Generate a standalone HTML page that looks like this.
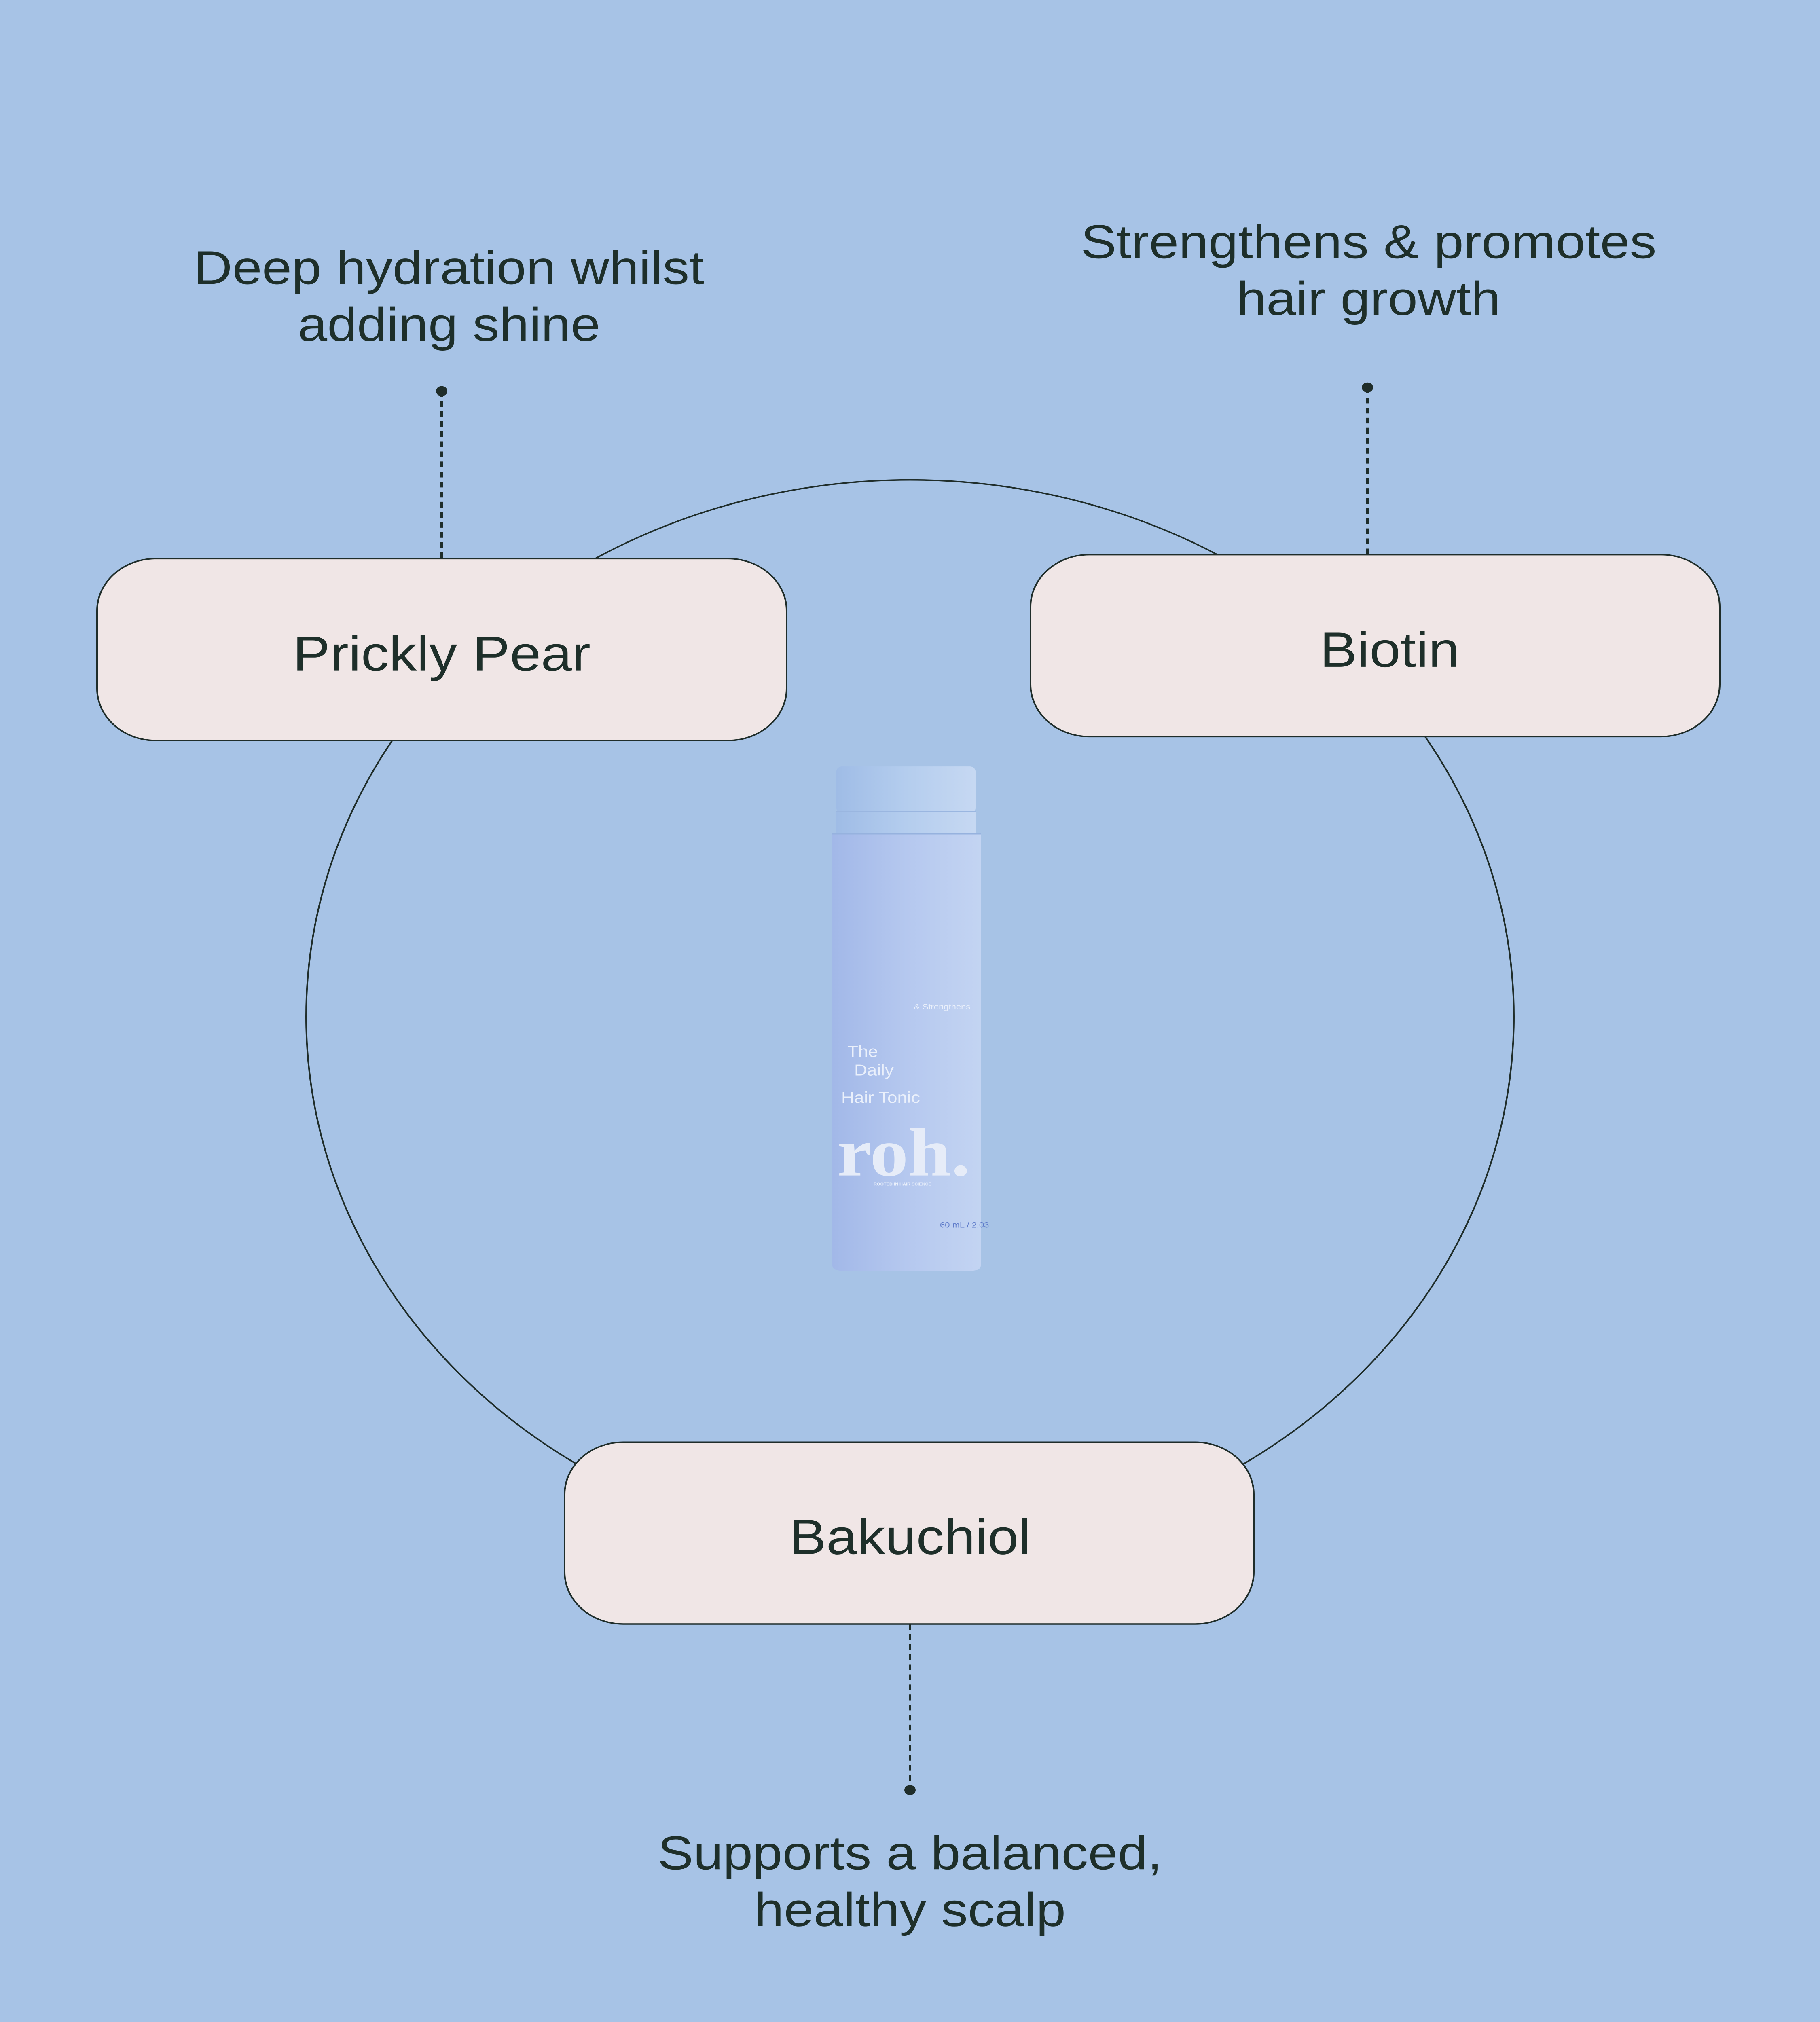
<!DOCTYPE html>
<html><head><style>
html,body{margin:0;padding:0;width:100%;height:100%;overflow:hidden;background:#a7c3e6}
svg{display:block;width:100vw;height:100vh}
</style></head><body>
<svg viewBox="0 0 4500 5625" preserveAspectRatio="none" xmlns="http://www.w3.org/2000/svg">
<defs>
<linearGradient id="bg" x1="0" x2="1" y1="0" y2="0">
<stop offset="0" stop-color="#9fbce6"/><stop offset="0.5" stop-color="#b4cdee"/><stop offset="1" stop-color="#c6d8f2"/>
</linearGradient>
<linearGradient id="bb" x1="0" x2="1" y1="0" y2="0">
<stop offset="0" stop-color="#a2b8e8"/><stop offset="0.5" stop-color="#b5c8ef"/><stop offset="1" stop-color="#c3d4f2"/>
</linearGradient>
</defs>
<rect width="4500" height="5625" fill="#a7c3e6"/>
<circle cx="2250" cy="2828" r="1493" fill="none" stroke="#1f2d2a" stroke-width="4"/>
<g stroke="#1f2d2a" stroke-width="6" stroke-dasharray="16 12">
<line x1="1092" y1="1088" x2="1092" y2="1554"/>
<line x1="3381" y1="1078" x2="3381" y2="1543"/>
<line x1="2250" y1="4518" x2="2250" y2="4980"/>
</g>
<g fill="#1f2d2a">
<circle cx="1092" cy="1088" r="14"/><circle cx="3381" cy="1078" r="14"/><circle cx="2250" cy="4980" r="14"/>
</g>
<g fill="#f0e6e6" stroke="#1f2d2a" stroke-width="4">
<rect x="240" y="1554" width="1705" height="506" rx="145"/>
<rect x="2548" y="1543" width="1704" height="506" rx="145"/>
<rect x="1396" y="4012" width="1704" height="506" rx="145"/>
</g>
<g fill="#1e2f2a" font-family="Liberation Sans, sans-serif" text-anchor="middle">
<text x="1092" y="1866" font-size="138">Prickly Pear</text>
<text x="3436" y="1855" font-size="138">Biotin</text>
<text x="2250" y="4323" font-size="138">Bakuchiol</text>
<text x="1110" y="790" font-size="132">Deep hydration whilst</text>
<text x="1110" y="948" font-size="132">adding shine</text>
<text x="3384" y="718" font-size="132">Strengthens &amp; promotes</text>
<text x="3384" y="876" font-size="132">hair growth</text>
<text x="2250" y="5200" font-size="132">Supports a balanced,</text>
<text x="2250" y="5358" font-size="132">healthy scalp</text>
</g>
<rect x="2068" y="2132" width="344" height="130" rx="14" fill="url(#bg)"/>
<rect x="2068" y="2258" width="344" height="62" fill="url(#bg)"/>
<line x1="2068" y1="2258" x2="2412" y2="2258" stroke="#9ab6e0" stroke-width="3"/>
<path d="M2058 2320 H2425 V3520 Q2425 3535 2400 3535 H2083 Q2058 3535 2058 3520 Z" fill="url(#bb)"/>
<line x1="2058" y1="2320" x2="2425" y2="2320" stroke="#96b2de" stroke-width="3"/>
<g fill="#eaf0fb" font-family="Liberation Sans, sans-serif">
<text x="2095" y="2940" font-size="44">The</text>
<text x="2112" y="2992" font-size="44">Daily</text>
<text x="2080" y="3068" font-size="44">Hair Tonic</text>
<text x="2070" y="3270" font-size="190" font-family="Liberation Serif, serif" font-weight="bold" fill="#e6ecf8">roh.</text>
<text x="2260" y="2808" font-size="22">&amp; Strengthens</text>
<text x="2160" y="3298" font-size="11" font-weight="bold">ROOTED IN HAIR SCIENCE</text>
</g>
<text x="2324" y="3415" font-size="22" fill="#5b78c8" font-family="Liberation Sans, sans-serif">60 mL / 2.03</text>
</svg>
</body></html>
